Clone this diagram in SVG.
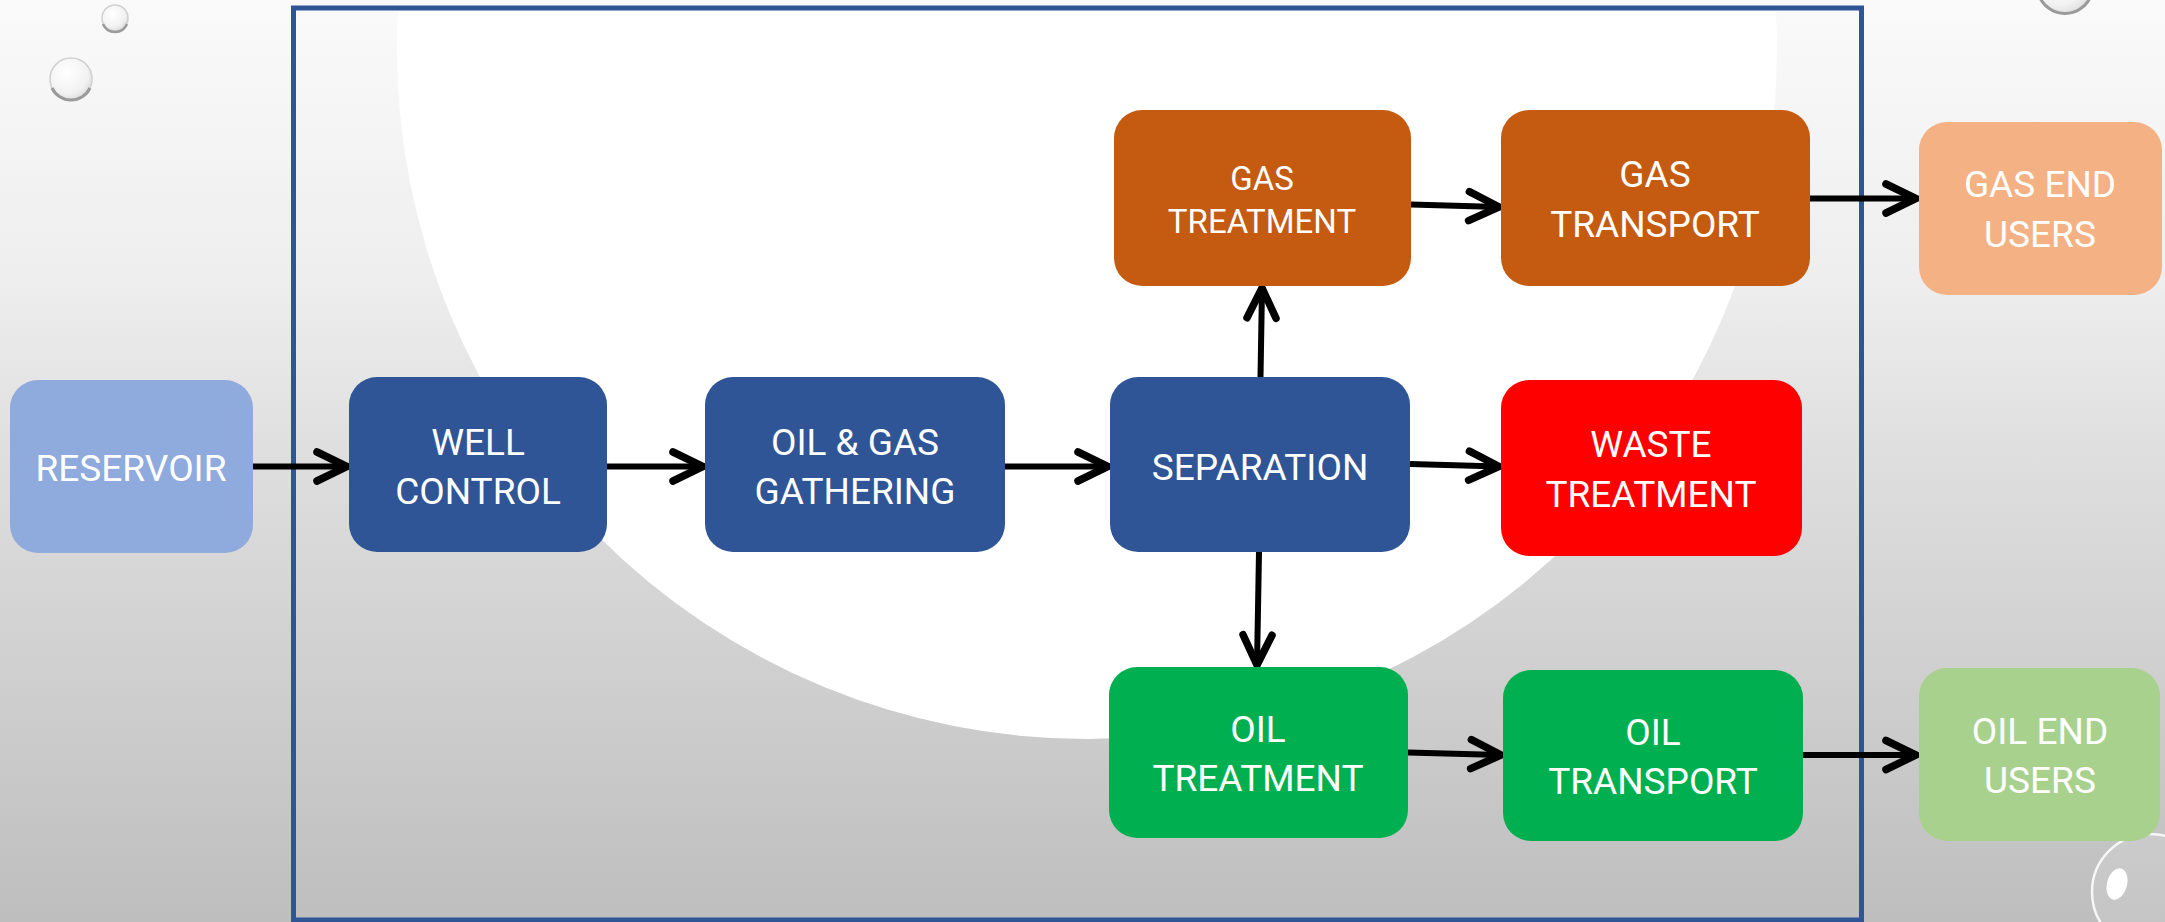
<svg xmlns="http://www.w3.org/2000/svg" width="2165" height="922" viewBox="0 0 2165 922">
<style>
.lbl{font-family:Roboto,"Open Sans","Liberation Sans",sans-serif;font-size:37px;fill:#FFFFFF;text-anchor:middle}
.sm{font-size:33px}
.blue{fill:#2F5597}
.res{fill:#8FAADC}
.gas{fill:#C55A11}
.gasend{fill:#F4B183}
.waste{fill:#FF0000}
.oil{fill:#00B050}
.oilend{fill:#A9D18E}
.conn{stroke:#000;stroke-width:6;fill:none;marker-end:url(#arr)}
.bub{fill:url(#bubg);stroke:#D0D0D0;stroke-width:1.5}
</style>
<defs>
<linearGradient id="bg" x1="0" y1="0" x2="0" y2="1">
<stop offset="0" stop-color="#FAFAFA"/>
<stop offset="0.3" stop-color="#EEEEEE"/>
<stop offset="0.5" stop-color="#DEDEDE"/>
<stop offset="1" stop-color="#BEBEBE"/>
</linearGradient>
<radialGradient id="bubg" cx="0.4" cy="0.35" r="0.7">
<stop offset="0" stop-color="#FFFFFF"/>
<stop offset="0.7" stop-color="#F2F2F2"/>
<stop offset="1" stop-color="#DADADA"/>
</radialGradient>
<clipPath id="frameclip"><rect x="296" y="10" width="1563" height="908"/></clipPath>
<marker id="arr" markerUnits="userSpaceOnUse" markerWidth="44" markerHeight="40" viewBox="-36 -20 44 40" refX="0" refY="0" orient="auto">
<path d="M -30 -14.5 L 0 0 L -30 14.5" fill="none" stroke="#000" stroke-width="7.5" stroke-linecap="round" stroke-linejoin="miter"/>
</marker>
</defs>
<rect x="0" y="0" width="2165" height="922" fill="url(#bg)"/>
<g id="backdrop">
<circle cx="1087" cy="49" r="690" fill="#FFFFFF" clip-path="url(#frameclip)"/>
</g>
<g id="bubbles">
<circle cx="115" cy="18" r="13" class="bub"/>
<path d="M 103 24 A 13 13 0 0 0 127 24" fill="none" stroke="#9A9A9A" stroke-width="2.5"/>
<circle cx="71" cy="79" r="21" class="bub"/>
<path d="M 52 88 A 21 21 0 0 0 90 88" fill="none" stroke="#9A9A9A" stroke-width="3"/>
<circle cx="2065" cy="-14" r="28" class="bub"/>
<path d="M 2040 -2 A 28 28 0 0 0 2090 -2" fill="none" stroke="#9A9A9A" stroke-width="3"/>
<circle cx="2150" cy="892" r="58" fill="#FFFFFF" fill-opacity="0.12" stroke="#FFFFFF" stroke-width="2.5" stroke-opacity="0.85"/>
<ellipse cx="2117" cy="884" rx="10" ry="16" transform="rotate(15 2117 884)" fill="#FFFFFF"/>
</g>
<rect id="frame" x="293.5" y="8" width="1568" height="912" fill="none" stroke="#2F5597" stroke-width="5"/>
<g id="connectors">
<line class="conn" x1="253" y1="466.5" x2="347" y2="466.5"/>
<line class="conn" x1="607" y1="466.5" x2="703" y2="466.5"/>
<line class="conn" x1="1005" y1="466.5" x2="1108" y2="466.5"/>
<line class="conn" x1="1260.5" y1="377" x2="1262" y2="288"/>
<line class="conn" x1="1410" y1="464" x2="1499" y2="466.5"/>
<line class="conn" x1="1259" y1="552" x2="1257" y2="665"/>
<line class="conn" x1="1411" y1="204.5" x2="1499" y2="207"/>
<line class="conn" x1="1810" y1="198.5" x2="1916" y2="198.5"/>
<line class="conn" x1="1408" y1="752.5" x2="1501" y2="755"/>
<line class="conn" x1="1803" y1="755" x2="1916" y2="755"/>
</g>
<g id="reservoir">
<rect class="res" x="10" y="380" width="243" height="173" rx="28"/>
<text class="lbl" x="131" y="481">RESERVOIR</text>
</g>
<g id="well-control">
<rect class="blue" x="349" y="377" width="258" height="175" rx="28"/>
<text class="lbl" x="478" y="455">WELL</text>
<text class="lbl" x="478" y="504">CONTROL</text>
</g>
<g id="gathering">
<rect class="blue" x="705" y="377" width="300" height="175" rx="28"/>
<text class="lbl" x="855" y="455">OIL &amp; GAS</text>
<text class="lbl" x="855" y="504">GATHERING</text>
</g>
<g id="separation">
<rect class="blue" x="1110" y="377" width="300" height="175" rx="28"/>
<text class="lbl" x="1260" y="480">SEPARATION</text>
</g>
<g id="gas-treatment">
<rect class="gas" x="1114" y="110" width="297" height="176" rx="28"/>
<text class="lbl sm" x="1262" y="190">GAS</text>
<text class="lbl sm" x="1262" y="233">TREATMENT</text>
</g>
<g id="gas-transport">
<rect class="gas" x="1501" y="110" width="309" height="176" rx="28"/>
<text class="lbl" x="1655" y="187">GAS</text>
<text class="lbl" x="1655" y="237">TRANSPORT</text>
</g>
<g id="gas-end-users">
<rect class="gasend" x="1919" y="122" width="243" height="173" rx="28"/>
<text class="lbl" x="2040" y="197">GAS END</text>
<text class="lbl" x="2040" y="247">USERS</text>
</g>
<g id="waste-treatment">
<rect class="waste" x="1501" y="380" width="301" height="176" rx="28"/>
<text class="lbl" x="1651" y="457">WASTE</text>
<text class="lbl" x="1651" y="507">TREATMENT</text>
</g>
<g id="oil-treatment">
<rect class="oil" x="1109" y="667" width="299" height="171" rx="28"/>
<text class="lbl" x="1258" y="742">OIL</text>
<text class="lbl" x="1258" y="791">TREATMENT</text>
</g>
<g id="oil-transport">
<rect class="oil" x="1503" y="670" width="300" height="171" rx="28"/>
<text class="lbl" x="1653" y="745">OIL</text>
<text class="lbl" x="1653" y="794">TRANSPORT</text>
</g>
<g id="oil-end-users">
<rect class="oilend" x="1919" y="668" width="241" height="173" rx="28"/>
<text class="lbl" x="2040" y="744">OIL END</text>
<text class="lbl" x="2040" y="793">USERS</text>
</g>
</svg>
